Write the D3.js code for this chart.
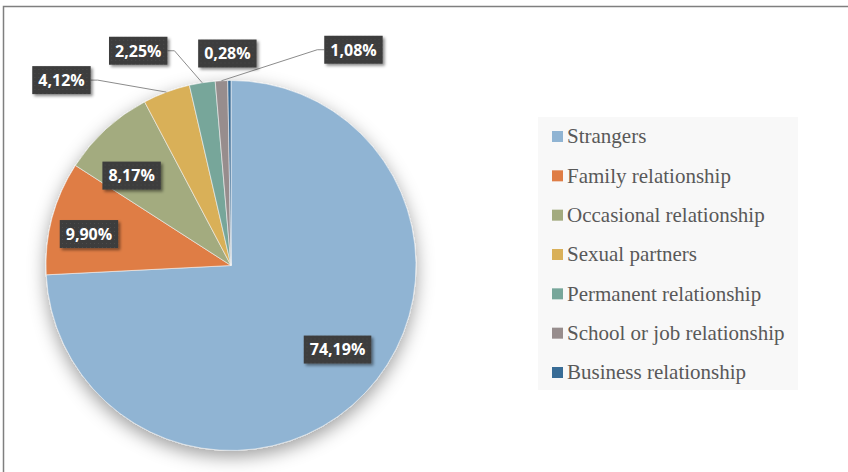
<!DOCTYPE html>
<html>
<head>
<meta charset="utf-8">
<title>Relationship pie</title>
<style>
body { margin: 0; background: #fff; }
.legend text { font: 21px "Liberation Serif", "Times New Roman", serif; fill: #595959; }
.lbl text { font: bold 16px "Open Sans", sans-serif; fill: #fff; }
</style>
</head>
<body>
<script src="https://cdn.jsdelivr.net/npm/d3@7/dist/d3.min.js"></script>
<script>

var categories = ["Strangers", "Family relationship", "Occasional relationship", "Sexual partners",
                  "Permanent relationship", "School or job relationship", "Business relationship"];
var shares = [74.19, 9.90, 8.17, 4.12, 2.25, 1.08, 0.28];
var colors = ["#90B4D3", "#DF7D45", "#A3AB7F", "#D9B059", "#77A69A", "#978D8D", "#386C96"];

// where the small slices put their label, relative to the slice rim
var outerOffsets = [null, null, null, [-105, -12], [-64, -32], [132, -31], [-2, -27]];

var width = 848, height = 472;
var cx = 231, cy = 265.5, r = 185;

var svg = d3.select("body").append("svg")
    .attr("width", width)
    .attr("height", height);

var defs = svg.append("defs");

var pieShadow = defs.append("filter").attr("id", "pieShadow")
    .attr("x", "-20%").attr("y", "-20%").attr("width", "140%").attr("height", "140%");
pieShadow.append("feDropShadow")
    .attr("dx", 0).attr("dy", 6).attr("stdDeviation", 9)
    .attr("flood-color", "#000").attr("flood-opacity", 0.38);

var boxShadow = defs.append("filter").attr("id", "boxShadow")
    .attr("x", "-20%").attr("y", "-20%").attr("width", "150%").attr("height", "160%");
boxShadow.append("feDropShadow")
    .attr("dx", 2).attr("dy", 2).attr("stdDeviation", 1.5)
    .attr("flood-color", "#000").attr("flood-opacity", 0.45);

var dots = defs.append("pattern").attr("id", "dots")
    .attr("width", 4).attr("height", 4).attr("patternUnits", "userSpaceOnUse");
dots.append("rect").attr("width", 4).attr("height", 4).attr("fill", "#3c3c3c");
dots.append("rect").attr("x", 1).attr("y", 1).attr("width", 1).attr("height", 1).attr("fill", "#4d4d4d");

// chart border
svg.append("rect")
    .attr("x", 3.5).attr("y", 6.5)
    .attr("width", 900).attr("height", 500)
    .attr("fill", "none")
    .attr("stroke", "#7f7f7f")
    .attr("stroke-width", 1.5);

var pie = d3.pie().sort(null).value(function(d) { return d; });
var arcs = pie(shares);
var arc = d3.arc().innerRadius(0).outerRadius(r);

var g = svg.append("g")
    .attr("transform", "translate(" + cx + "," + cy + ")");

g.append("g")
    .attr("filter", "url(#pieShadow)")
  .selectAll("path")
  .data(arcs)
  .enter().append("path")
    .attr("d", arc)
    .attr("fill", function(d, i) { return colors[i]; })
    .attr("stroke", "#f4f4f4")
    .attr("stroke-width", 0.6);

var locale = d3.formatLocale({decimal: ",", thousands: ".", grouping: [3], currency: ["", ""]});
var fmt = locale.format(".2f");

function mid(d) { return (d.startAngle + d.endAngle) / 2; }

var labels = arcs.map(function(d, i) {
  var a = mid(d);
  var o = outerOffsets[i];
  if (!o) {
    return {text: fmt(shares[i]) + "%", x: 147 * Math.sin(a), y: -122 * Math.cos(a), line: null};
  }
  var ex = r * Math.sin(a), ey = -r * Math.cos(a);
  return {text: fmt(shares[i]) + "%", x: ex + o[0], y: ey + o[1], line: [ex, ey], noLine: i === 6};
});

var lbl = g.selectAll(".lbl")
  .data(labels)
  .enter().append("g")
    .attr("class", "lbl")
    .attr("transform", function(d) { return "translate(" + d.x + "," + d.y + ")"; });

lbl.append("text")
    .attr("text-anchor", "middle")
    .attr("dy", "0.36em")
    .text(function(d) { return d.text; });

lbl.each(function(d) {
  var t = d3.select(this).select("text");
  var bb = t.node().getBBox();
  d.w = bb.width + 12;
  d.h = 28;
  d3.select(this).insert("rect", "text")
    .attr("x", -d.w / 2).attr("y", -d.h / 2)
    .attr("width", d.w).attr("height", d.h)
    .attr("fill", "url(#dots)")
    .attr("filter", "url(#boxShadow)");
});

// leader lines
g.insert("g", ".lbl")
  .selectAll("path")
  .data(labels.filter(function(d) { return d.line && !d.noLine; }))
  .enter().append("path")
    .attr("fill", "none")
    .attr("stroke", "#8c8c8c")
    .attr("stroke-width", 1)
    .attr("d", function(d) {
      var side = d.line[0] > d.x ? 1 : -1;
      var sx = d.x + side * d.w / 2;
      var kx = sx + side * 7;
      return "M" + sx + "," + d.y + "L" + kx + "," + d.y + "L" + d.line[0] + "," + d.line[1];
    });

// legend
var legend = svg.append("g").attr("class", "legend");
legend.append("rect")
    .attr("x", 538).attr("y", 117)
    .attr("width", 260).attr("height", 273)
    .attr("fill", "#f8f8f8");

var ly = d3.scalePoint().domain(categories).range([136.5, 372.5]);

var item = legend.selectAll(".item")
  .data(categories)
  .enter().append("g")
    .attr("class", "item")
    .attr("transform", function(d) { return "translate(552," + ly(d) + ")"; });

item.append("rect")
    .attr("x", 0).attr("y", -5.5)
    .attr("width", 11).attr("height", 11)
    .attr("fill", function(d, i) { return colors[i]; });

item.append("text")
    .attr("x", 15)
    .attr("dy", "0.33em")
    .text(function(d) { return d; });

</script>
</body>
</html>
